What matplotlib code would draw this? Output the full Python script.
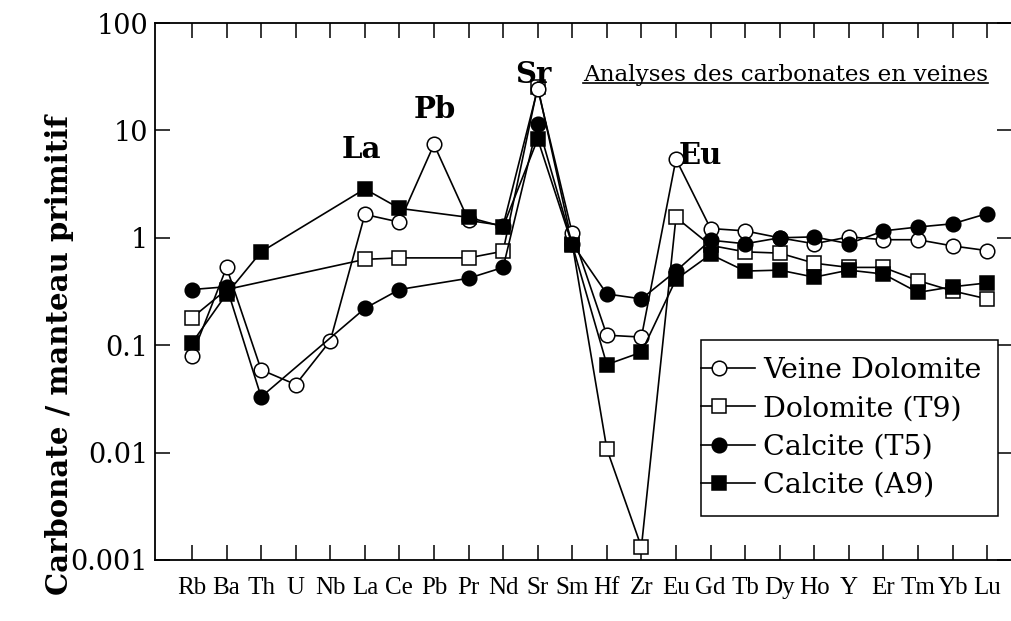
import numpy as np
import matplotlib
matplotlib.use("Agg")
import matplotlib.pyplot as plt
from matplotlib.ticker import FixedLocator, FixedFormatter, NullLocator
from matplotlib.lines import Line2D
from matplotlib.legend_handler import HandlerLine2D

nan = np.nan
elements = ['Rb', 'Ba', 'Th', 'U', 'Nb', 'La', 'Ce', 'Pb', 'Pr', 'Nd', 'Sr', 'Sm',
            'Hf', 'Zr', 'Eu', 'Gd', 'Tb', 'Dy', 'Ho', 'Y', 'Er', 'Tm', 'Yb', 'Lu']

veine_dolomite = [0.08, 0.53, 0.059, 0.043, 0.11, 1.65, 1.4, 7.4, 1.45, 1.3, 24.5, 1.1,
                  0.124, 0.119, 5.4, 1.22, 1.16, 1.0, 0.88, 1.02, 0.96, 0.96, 0.84, 0.76]
dolomite_t9 = [0.18, 0.33, nan, nan, nan, 0.63, 0.65, nan, 0.65, 0.75, 25.5, 0.88,
               0.0108, 0.00132, 1.55, 0.85, 0.74, 0.72, 0.58, 0.53, 0.53, 0.40, 0.32, 0.27]
calcite_t5 = [0.33, 0.35, 0.033, nan, nan, 0.22, 0.33, nan, 0.42, 0.53, 11.5, 0.88,
              0.30, 0.27, 0.49, 0.95, 0.88, 1.0, 1.02, 0.88, 1.16, 1.26, 1.35, 1.68]
calcite_a9 = [0.105, 0.30, 0.74, nan, nan, 2.85, 1.88, nan, 1.55, 1.27, 8.3, 0.86,
              0.066, 0.086, 0.41, 0.70, 0.49, 0.50, 0.43, 0.50, 0.46, 0.31, 0.35, 0.38]

series_names = ['Veine Dolomite', 'Dolomite (T9)', 'Calcite (T5)', 'Calcite (A9)']
ytick_vals = [0.001, 0.01, 0.1, 1, 10, 100]
ytick_labels = ['0.001', '0.01', '0.1', '1', '10', '100']

SERIF = ['DejaVu Serif']
NARROW = ['Liberation Serif', 'DejaVu Serif']
plt.rcParams['font.family'] = SERIF


class OffsetHandler(HandlerLine2D):
    """Legend handle: line extends to the left, marker placed left of centre."""
    def create_artists(self, legend, orig_handle, xdescent, ydescent,
                       width, height, fontsize, trans):
        ymid = height / 2 - ydescent
        x0 = -xdescent - 12
        x1 = -xdescent + width
        line = Line2D([x0, x1], [ymid, ymid])
        self.update_prop(line, orig_handle, legend)
        line.set_marker('None')
        mk = Line2D([x0 + (x1 - x0) * 0.34], [ymid])
        self.update_prop(mk, orig_handle, legend)
        mk.set_linestyle('None')
        line.set_transform(trans)
        mk.set_transform(trans)
        return [line, mk]


fig = plt.figure(figsize=(10.12, 6.21), dpi=100)
ax = fig.add_axes([155 / 1012, 61 / 621, 857 / 1012, 537 / 621])

x = np.arange(len(elements))
styles = [
    dict(marker='o', mfc='white', mec='black'),
    dict(marker='s', mfc='white', mec='black'),
    dict(marker='o', mfc='black', mec='black'),
    dict(marker='s', mfc='black', mec='black'),
]
data = [veine_dolomite, dolomite_t9, calcite_t5, calcite_a9]
order = [1, 0, 2, 3]
handles = {}
for z, i in enumerate(order):
    y = np.array(data[i], dtype=float)
    m = ~np.isnan(y)
    ln, = ax.plot(x[m], y[m], color='black', lw=1.2, ms=10.5, mew=1.1,
                  zorder=3 + z, **styles[i])
    handles[i] = ln

ax.set_yscale('log')
ax.set_ylim(0.001, 100)
ax.set_xlim((155 - 192) / 34.57, (1012 - 192) / 34.57)
ax.yaxis.set_major_locator(FixedLocator(ytick_vals))
ax.yaxis.set_major_formatter(FixedFormatter(ytick_labels))
ax.yaxis.set_minor_locator(NullLocator())
ax.set_xticks(x)
ax.set_xticklabels(elements, fontfamily=NARROW)
ax.tick_params(axis='both', direction='in', length=11, width=1.1,
               top=True, right=True)
ax.tick_params(axis='y', labelsize=19.5, pad=5)
ax.tick_params(axis='x', pad=12, labelsize=18)
for s in ax.spines.values():
    s.set_linewidth(1.3)

fig.text(60 / 1012, 1 - 355 / 621, 'Carbonate / manteau primitif',
         fontsize=21, fontweight='bold', rotation=90, ha='center', va='center')

for lab, xi, yv in [('La', 4.9, 6.6), ('Pb', 7.03, 15.5), ('Sr', 9.87, 32.8),
                    ('Eu', 14.7, 5.9)]:
    ax.text(xi, yv, lab, fontsize=21, fontweight='bold', ha='center', va='center')

title = ax.text((583 - 155) / 857, (560 - 75) / 537,
                'Analyses des carbonates en veines', transform=ax.transAxes,
                fontsize=16.7, ha='left', va='center')

leg = ax.legend([handles[i] for i in range(4)], series_names,
                handler_map={Line2D: OffsetHandler()},
                loc='upper right', bbox_to_anchor=(0.984, 0.41),
                prop={'family': SERIF, 'size': 20.5}, frameon=True,
                fancybox=False, framealpha=1,
                edgecolor='black', handlelength=1.3, handletextpad=0.28,
                borderpad=0.6, labelspacing=0.4, borderaxespad=0)
leg.get_frame().set_linewidth(1.1)

fig.canvas.draw()
bb = title.get_window_extent()
inv = fig.transFigure.inverted()
(x0, y0), (x1, _) = inv.transform([(bb.x0, bb.y0 + 3), (bb.x1, bb.y0 + 3)])
fig.add_artist(Line2D([x0, x1], [y0, y0], color='black', lw=1.2,
                      transform=fig.transFigure))

fig.savefig('out.png', dpi=100)
